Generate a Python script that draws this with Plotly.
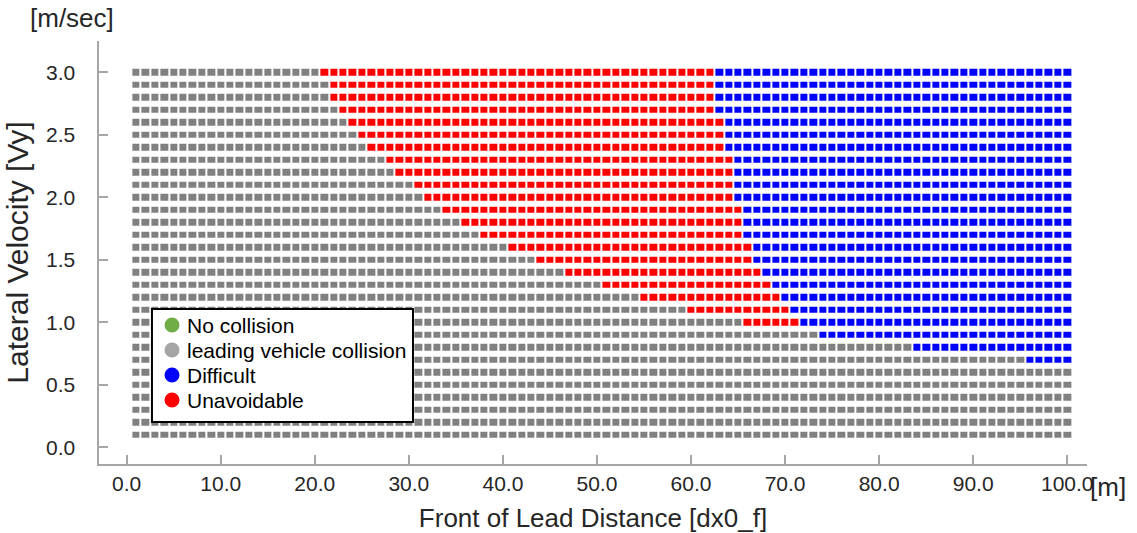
import plotly.graph_objects as go

# Grid coordinates
distance = list(range(1, 101))  # Front of Lead Distance [m]
velocity = [0.1, 0.2, 0.3, 0.4, 0.5, 0.6, 0.7, 0.8, 0.9, 1.0,
            1.1, 1.2, 1.3, 1.4, 1.5, 1.6, 1.7, 1.8, 1.9, 2.0,
            2.1, 2.2, 2.3, 2.4, 2.5, 2.6, 2.7, 2.8, 2.9, 3.0]

# First distance (per velocity row, bottom to top) where the "Unavoidable" (red) region starts
red_start = [101, 101, 101, 101, 101, 101, 96, 84, 74, 66,
             60, 55, 51, 47, 44, 41, 38, 36, 34, 32,
             31, 29, 28, 26, 25, 24, 23, 22, 22, 21]
# First distance (per velocity row) where the "Difficult" (blue) region starts
blue_start = [101, 101, 101, 101, 101, 101, 96, 84, 74, 72,
              71, 70, 69, 68, 67, 67, 66, 66, 66, 65,
              65, 65, 65, 64, 64, 64, 63, 63, 63, 63]

categories = ["No collision", "leading vehicle collision", "Difficult", "Unavoidable"]
legend_colors = ["#70ad47", "#a5a5a5", "#0000ff", "#ff0000"]

x_ticks = [0, 10, 20, 30, 40, 50, 60, 70, 80, 90, 100]
x_ticklabels = ["0.0", "10.0", "20.0", "30.0", "40.0", "50.0",
                "60.0", "70.0", "80.0", "90.0", "100.0"]
y_ticks = [0, 0.5, 1.0, 1.5, 2.0, 2.5, 3.0]
y_ticklabels = ["0.0", "0.5", "1.0", "1.5", "2.0", "2.5", "3.0"]

# category codes: 0 = leading vehicle collision (gray), 1 = difficult (blue), 2 = unavoidable (red)
z = []
for r, b in zip(red_start, blue_start):
    row = []
    for d in distance:
        if d >= b:
            row.append(1)
        elif d >= r:
            row.append(2)
        else:
            row.append(0)
    z.append(row)

fig = go.Figure()
fig.add_trace(go.Heatmap(
    x=distance, y=velocity, z=z,
    zmin=0, zmax=2,
    colorscale=[[0, "#808080"], [0.3333, "#808080"], [0.3334, "#0000ff"],
                [0.6666, "#0000ff"], [0.6667, "#ff0000"], [1, "#ff0000"]],
    xgap=2, ygap=6, showscale=False, showlegend=False, hoverinfo="skip",
))

font_family = "Liberation Sans, Arial, sans-serif"
axis_line = "#a6a6a6"
text_col = "#262626"
y_range = [-0.136, 3.248]

# ---- legend box (drawn in pixel-accurate paper coordinates) ----
shapes = [dict(type="rect", xref="paper", yref="paper",
               x0=0.0536, x1=0.3178, y0=0.0993, y1=0.3664,
               line=dict(color="black", width=2), fillcolor="white", layer="above")]
annotations = []
item_y = [0.3286, 0.2695, 0.2104, 0.1513]
for name, col, yy in zip(categories, legend_colors, item_y):
    shapes.append(dict(type="circle", xref="paper", yref="paper",
                       xsizemode="pixel", ysizemode="pixel",
                       xanchor=0.0739, yanchor=yy,
                       x0=-7.5, x1=7.5, y0=-7.5, y1=7.5,
                       line=dict(width=0), fillcolor=col, layer="above"))
    annotations.append(dict(text=name, xref="paper", yref="paper", x=0.0871, y=yy,
                            xanchor="left", yanchor="middle", showarrow=False,
                            font=dict(size=21, color="#000000")))

# y tick labels, set clear of the axis line as in the original
for v, lab in zip(y_ticks, y_ticklabels):
    annotations.append(dict(text=lab, xref="paper", yref="y", x=-0.0223, y=v,
                            xanchor="right", yanchor="middle", showarrow=False,
                            font=dict(size=21, color=text_col)))

annotations += [
    dict(text="[m/sec]", xref="paper", yref="paper", x=-0.027, y=1.054,
         xanchor="center", yanchor="middle", showarrow=False,
         font=dict(size=26, color=text_col)),
    dict(text="[m]", xref="paper", yref="paper", x=1.021, y=-0.054,
         xanchor="center", yanchor="middle", showarrow=False,
         font=dict(size=26, color=text_col)),
]

fig.update_layout(
    width=1137, height=533,
    margin=dict(l=99, r=50, t=41, b=69),
    plot_bgcolor="white", paper_bgcolor="white",
    font=dict(family=font_family, color=text_col),
    showlegend=False,
    xaxis=dict(
        range=[-2.94, 102.1],
        tickvals=x_ticks, ticktext=x_ticklabels,
        ticks="inside", ticklen=9, tickcolor=axis_line, tickwidth=1.5,
        showline=True, linecolor=axis_line, linewidth=1.5,
        showgrid=False, zeroline=False, automargin=False,
        tickfont=dict(size=21, color=text_col),
        title=dict(text="Front of Lead Distance [dx0_f]", font=dict(size=26), standoff=15),
    ),
    yaxis=dict(
        range=y_range,
        tickvals=y_ticks, showticklabels=False,
        ticks="inside", ticklen=9, tickcolor=axis_line, tickwidth=1.5,
        showline=True, linecolor=axis_line, linewidth=1.5,
        showgrid=False, zeroline=False, automargin=False,
        title=dict(text="Lateral Velocity [Vy]", font=dict(size=30), standoff=60),
    ),
    shapes=shapes,
    annotations=annotations,
)

fig.write_html("out.html")
